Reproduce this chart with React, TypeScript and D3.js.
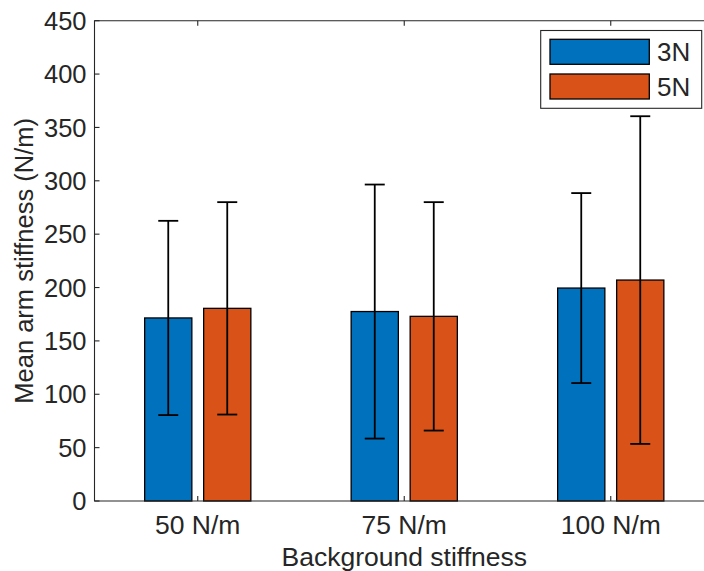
import React, { useEffect, useRef } from "react";
import * as d3 from "d3";

// Mean arm stiffness by background stiffness, grouped bars with SD error bars.
const categories = ["50 N/m", "75 N/m", "100 N/m"];
const seriesNames = ["3N", "5N"];
const means3N = [171.5, 177.5, 199.5];
const means5N = [180.5, 173, 207];
const sd3N = [91, 119, 89];
const sd5N = [99.5, 107, 153.5];
const yTicks = [0, 50, 100, 150, 200, 250, 300, 350, 400, 450];

const W = 704;
const H = 571;
const FONT = "'Liberation Sans', Arial, Helvetica, sans-serif";
const INK = "#262626";
const colors = ["#0072BD", "#D95319"];

export default function App() {
  const ref = useRef<SVGSVGElement>(null);

  useEffect(() => {
    const svg = d3.select(ref.current);
    svg.selectAll("*").remove();

    const left = 94.5, top = 20.7, bottom = 501, right = 714;

    const x = d3.scaleLinear().domain([0.5, 3.5]).range([left, right]);
    const y = d3.scaleLinear().domain([0, 450]).range([bottom, top]);

    // MATLAB grouped bar geometry (2 series)
    const groupW = 2 / 3.5;
    const barW = (groupW / 2) * 0.8;
    const offs = [-groupW / 4, groupW / 4];

    const means = [means3N, means5N];
    const sds = [sd3N, sd5N];

    const g = svg.append("g");

    means.forEach((vals, s) => {
      g.selectAll(`.bar${s}`)
        .data(vals)
        .join("rect")
        .attr("x", (_, i) => x(i + 1 + offs[s] - barW / 2))
        .attr("width", x(barW) - x(0))
        .attr("y", (d) => y(d))
        .attr("height", (d) => y(0) - y(d))
        .attr("fill", colors[s])
        .attr("stroke", "#000")
        .attr("stroke-width", 1.3);
    });

    // error bars
    means.forEach((vals, s) => {
      vals.forEach((m, i) => {
        const cx = x(i + 1 + offs[s]);
        const lo = y(m - sds[s][i]);
        const hi = y(m + sds[s][i]);
        const eb = g.append("g").attr("stroke", "#000").attr("stroke-width", 1.8);
        eb.append("line").attr("x1", cx).attr("x2", cx).attr("y1", lo).attr("y2", hi);
        eb.append("line").attr("x1", cx - 10).attr("x2", cx + 10).attr("y1", lo).attr("y2", lo);
        eb.append("line").attr("x1", cx - 10).attr("x2", cx + 10).attr("y1", hi).attr("y2", hi);
      });
    });

    // axes box
    const axis = svg.append("g").attr("stroke", INK).attr("stroke-width", 1.1).attr("fill", "none");
    axis.append("path").attr("d", `M${left},${top}H${right}V${bottom}H${left}Z`);

    // y ticks (inward) + labels
    yTicks.forEach((t) => {
      axis.append("line").attr("x1", left).attr("x2", left + 5).attr("y1", y(t)).attr("y2", y(t));
      axis.append("line").attr("x1", right).attr("x2", right - 5).attr("y1", y(t)).attr("y2", y(t));
    });
    svg.append("g")
      .selectAll("text")
      .data(yTicks)
      .join("text")
      .attr("x", left - 8)
      .attr("y", (d) => y(d))
      .attr("dy", "0.36em")
      .attr("text-anchor", "end")
      .attr("font-family", FONT)
      .attr("font-size", 25.5)
      .attr("fill", INK)
      .text((d) => d);

    // x ticks
    categories.forEach((c, i) => {
      const cx = x(i + 1);
      axis.append("line").attr("x1", cx).attr("x2", cx).attr("y1", bottom).attr("y2", bottom - 5);
      axis.append("line").attr("x1", cx).attr("x2", cx).attr("y1", top).attr("y2", top + 5);
    });
    svg.append("g")
      .selectAll("text")
      .data(categories)
      .join("text")
      .attr("x", (_, i) => x(i + 1))
      .attr("y", 534)
      .attr("text-anchor", "middle")
      .attr("font-family", FONT)
      .attr("font-size", 26.5)
      .attr("fill", INK)
      .text((d) => d);

    // axis titles
    svg.append("text")
      .attr("x", x(2))
      .attr("y", 566)
      .attr("text-anchor", "middle")
      .attr("font-family", FONT)
      .attr("font-size", 26.5)
      .attr("fill", INK)
      .text("Background stiffness");

    svg.append("text")
      .attr("transform", `translate(33,${(top + bottom) / 2}) rotate(-90)`)
      .attr("text-anchor", "middle")
      .attr("font-family", FONT)
      .attr("font-size", 25.5)
      .attr("fill", INK)
      .text("Mean arm stiffness (N/m)");

    // legend
    const lg = svg.append("g");
    lg.append("rect")
      .attr("x", 540.7).attr("y", 30.5).attr("width", 161).attr("height", 77.8)
      .attr("fill", "#fff").attr("stroke", INK).attr("stroke-width", 1.1);
    seriesNames.forEach((name, s) => {
      const yy = 39.3 + s * 34.7;
      lg.append("rect")
        .attr("x", 550).attr("y", yy).attr("width", 99.3).attr("height", 25)
        .attr("fill", colors[s]).attr("stroke", "#000").attr("stroke-width", 1.3);
      lg.append("text")
        .attr("x", 657).attr("y", yy + 12.5).attr("dy", "0.36em")
        .attr("font-family", FONT).attr("font-size", 26).attr("fill", INK)
        .text(name);
    });
  }, []);

  return (
    <svg
      ref={ref}
      width={W}
      height={H}
      style={{ position: "absolute", left: 0, top: 0, background: "#fff" }}
    />
  );
}
